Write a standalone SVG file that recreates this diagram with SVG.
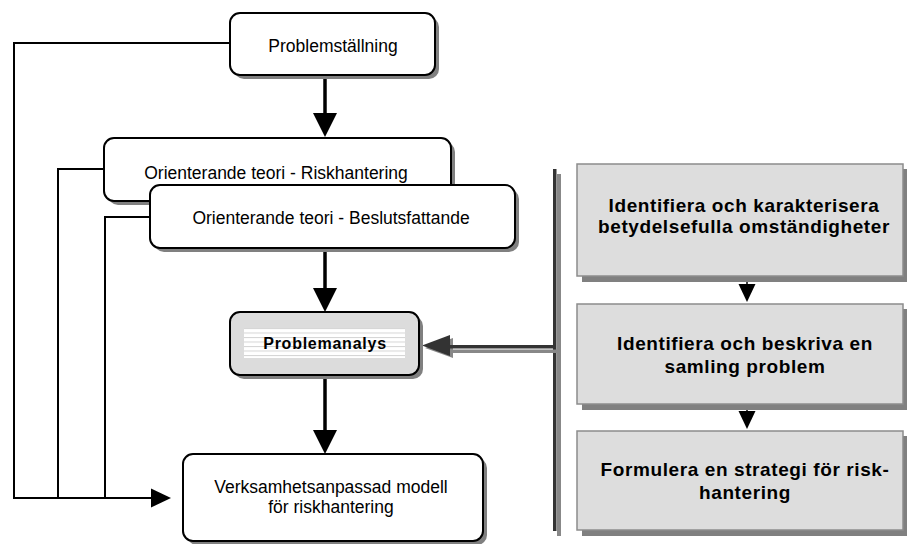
<svg xmlns="http://www.w3.org/2000/svg" width="907" height="544" viewBox="0 0 907 544">
  <style>
    .node { fill: #ffffff; stroke: #000000; stroke-width: 2; }
    .shadow { fill: #808080; stroke: none; }
    .gray { fill: #dcdcdc; stroke: #000000; stroke-width: 2; }
    .step { fill: #dddddd; stroke: #8c8c8c; stroke-width: 1.5; }
    .lbl { font-family: "Liberation Sans", Arial, sans-serif; font-size: 17.5px; fill: #000; text-anchor: middle; }
    .blbl { font-family: "Liberation Sans", Arial, sans-serif; font-size: 19px; font-weight: bold; letter-spacing: 0.6px; fill: #000; text-anchor: middle; }
    .plbl { font-family: "Liberation Sans", Arial, sans-serif; font-size: 16px; font-weight: bold; letter-spacing: 0.75px; fill: #000; text-anchor: middle; }
    .main { fill: none; stroke: #000; stroke-width: 3.5; }
    .thin { fill: none; stroke: #000; stroke-width: 2; }
    .fine { fill: none; stroke: #000; stroke-width: 1.5; }
  </style>
  <defs>
    <marker id="big" markerUnits="userSpaceOnUse" markerWidth="24" markerHeight="24" viewBox="0 0 24 24" refX="20" refY="12" orient="auto">
      <path d="M0,0 L24,12 L0,24 z" fill="#000"/>
    </marker>
    <marker id="mid" markerUnits="userSpaceOnUse" markerWidth="20" markerHeight="20" viewBox="0 0 20 20" refX="17" refY="10" orient="auto">
      <path d="M0,0.5 L20,10 L0,19.5 z" fill="#000"/>
    </marker>
    <marker id="small" markerUnits="userSpaceOnUse" markerWidth="18" markerHeight="18" viewBox="0 0 18 18" refX="16" refY="9" orient="auto">
      <path d="M0,0.5 L18,9 L0,17.5 z" fill="#000"/>
    </marker>
    <pattern id="stripes" patternUnits="userSpaceOnUse" x="0" y="328" width="10" height="4.5">
      <rect x="0" y="0" width="10" height="4.5" fill="#ffffff"/>
      <rect x="0" y="0" width="10" height="1" fill="#d4d4d4"/>
    </pattern>
  </defs>

  <g id="connectors">
    <path class="thin" d="M230,43 H14 V498 H168" marker-end="url(#mid)"/>
    <path class="thin" d="M104,169 H58 V498"/>
    <path class="thin" d="M150,217 H105 V498"/>
    <path class="main" d="M325,75 V133" marker-end="url(#big)"/>
    <path class="main" d="M325,248 V308" marker-end="url(#big)"/>
    <path class="main" d="M325,375 V450" marker-end="url(#big)"/>
    <path class="fine" d="M747,276 V300" marker-end="url(#small)"/>
    <path class="fine" d="M747,404 V427" marker-end="url(#small)"/>
    <!-- double arrow from bar to Problemanalys -->
    <g id="bar-arrow">
      <rect x="557" y="174" width="4" height="362" fill="#888888"/>
      <rect x="553" y="169" width="3.5" height="362" fill="#333333"/>
      <rect x="450" y="349.5" width="109" height="3.5" fill="#888888"/>
      <polygon points="425,348 453,338 453,358" fill="#888888"/>
      <rect x="448" y="345" width="107" height="3.5" fill="#333333"/>
      <polygon points="422,345.5 450,335 450,356" fill="#333333"/>
    </g>
  </g>

  <g id="problemstallning">
    <rect class="shadow" x="234" y="17" width="205" height="62" rx="10"/>
    <rect class="node" x="230" y="13" width="205" height="62" rx="10"/>
    <text class="lbl" x="333" y="52">Problemställning</text>
  </g>

  <g id="riskhantering">
    <rect class="shadow" x="108" y="142" width="347" height="63" rx="10"/>
    <rect class="node" x="104" y="138" width="347" height="63" rx="10"/>
    <text class="lbl" x="276" y="179">Orienterande teori - Riskhantering</text>
  </g>

  <g id="beslutsfattande">
    <rect class="shadow" x="154" y="189" width="365" height="63" rx="10"/>
    <rect class="node" x="150" y="185" width="365" height="63" rx="10"/>
    <text class="lbl" x="331" y="224">Orienterande teori - Beslutsfattande</text>
  </g>

  <g id="problemanalys">
    <rect class="shadow" x="234" y="316" width="189" height="63" rx="10"/>
    <rect class="gray" x="230" y="312" width="189" height="63" rx="10"/>
    <rect x="244" y="328" width="161" height="30" fill="url(#stripes)"/>
    <text class="plbl" x="325" y="349">Problemanalys</text>
  </g>

  <g id="verksamhet">
    <rect class="shadow" x="187" y="458" width="300" height="87" rx="10"/>
    <rect class="node" x="183" y="454" width="300" height="87" rx="10"/>
    <text class="lbl" x="331" y="493">Verksamhetsanpassad modell</text>
    <text class="lbl" x="331" y="513">för riskhantering</text>
  </g>

  <g id="step1">
    <rect class="shadow" x="582" y="169" width="326" height="113"/>
    <rect class="step" x="577" y="164" width="326" height="112"/>
    <text class="blbl" x="744" y="212">Identifiera och karakterisera</text>
    <text class="blbl" x="744" y="233">betydelsefulla omständigheter</text>
  </g>

  <g id="step2">
    <rect class="shadow" x="582" y="309" width="326" height="101"/>
    <rect class="step" x="577" y="304" width="326" height="100"/>
    <text class="blbl" x="745" y="350">Identifiera och beskriva en</text>
    <text class="blbl" x="745" y="373">samling problem</text>
  </g>

  <g id="step3">
    <rect class="shadow" x="582" y="436" width="326" height="100"/>
    <rect class="step" x="577" y="431" width="326" height="99"/>
    <text class="blbl" x="745" y="476">Formulera en strategi för risk-</text>
    <text class="blbl" x="745" y="499">hantering</text>
  </g>
</svg>
